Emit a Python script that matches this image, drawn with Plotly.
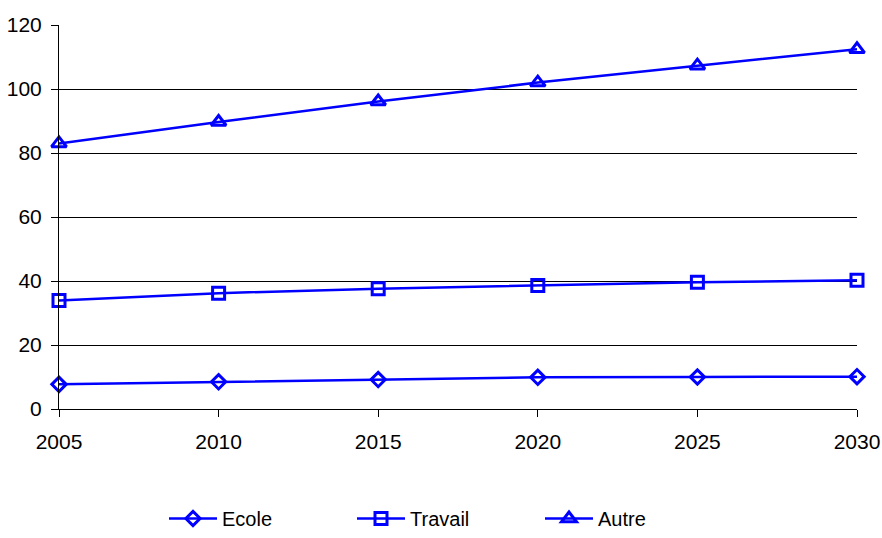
import plotly.graph_objects as go

years = [2005, 2010, 2015, 2020, 2025, 2030]
ecole = [7.7, 8.5, 9.2, 9.9, 10.0, 10.1]
travail = [33.9, 36.2, 37.6, 38.6, 39.6, 40.2]
autre = [83.0, 89.7, 96.1, 102.0, 107.3, 112.4]

blue = "#0000FF"
series = [("Ecole", ecole, "diamond-open", 11), ("Travail", travail, "square-open", 12),
          ("Autre", autre, "triangle-up-open", 13)]

fig = go.Figure()
for name, vals, sym, sz in series:
    fig.add_trace(go.Scatter(
        x=years, y=vals, name=name, mode="lines+markers",
        line=dict(color=blue, width=2.5),
        marker=dict(symbol=sym, size=sz, color=blue, line=dict(color=blue, width=3)),
        cliponaxis=False,
    ))

fig.update_layout(
    width=882, height=538,
    margin=dict(l=59, r=25, t=25, b=129, autoexpand=False),
    paper_bgcolor="white", plot_bgcolor="white",
    font=dict(family="Liberation Sans, Arial, sans-serif", size=21, color="black"),
    showlegend=True,
    legend=dict(orientation="h", xref="container", x=164 / 882, xanchor="left",
                yref="container", y=-6 / 538, yanchor="bottom",
                entrywidth=125, entrywidthmode="pixels", font=dict(size=20),
                itemwidth=48),
)
fig.update_xaxes(range=[2005, 2030], tickvals=years, showgrid=False, zeroline=False,
                 showline=True, linecolor="black", linewidth=1, automargin=False,
                 ticks="outside", ticklen=7, tickcolor="black", tickwidth=1,
                 ticklabelstandoff=7)
fig.update_yaxes(range=[0, 120], tickvals=[0, 20, 40, 60, 80, 100, 120], showgrid=True,
                 gridcolor="black", gridwidth=1, zeroline=False, automargin=False,
                 showline=True, linecolor="black", linewidth=1,
                 ticks="outside", ticklen=7, tickcolor="black", tickwidth=1,
                 ticklabelstandoff=5)

fig.write_html("out.html")
